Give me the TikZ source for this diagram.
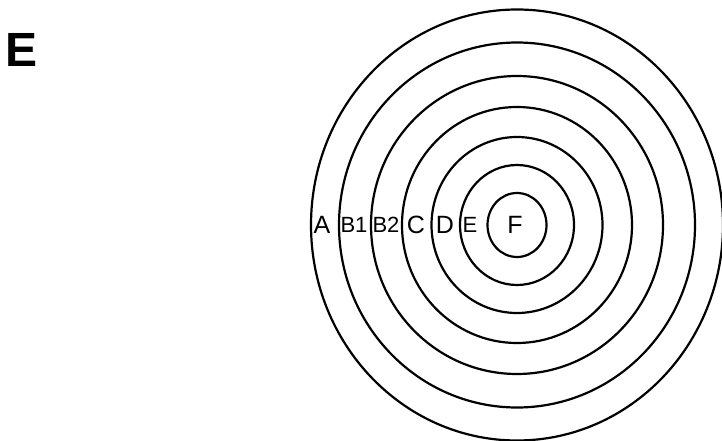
\documentclass[tikz,border=0pt]{standalone}
\usepackage{fontspec}
\setmainfont{Liberation Sans}
\usetikzlibrary{positioning}

\begin{document}
\begin{tikzpicture}[
    x=1pt, y=-1pt,
    ring/.style={line width=2.2pt},
    lbl/.style={font=\fontsize{25}{25}\selectfont, inner sep=0pt},
    slbl/.style={font=\fontsize{22}{22}\selectfont, inner sep=0pt},
    panel/.style={font=\fontsize{48}{48}\selectfont\bfseries, inner sep=0pt},
]
\useasboundingbox (0,0) rectangle (722,441);
\clip (0,0) rectangle (722,441);

% Panel letter
\node[panel] (panel) at (22,50) {E};

% Rings, outer to inner (centre at 517,225)
\coordinate (c) at (517,225);
\draw[ring] (c) ellipse [x radius=206, y radius=215.5];
\draw[ring] (c) ellipse [x radius=178, y radius=182.5];
\draw[ring] (c) ellipse [x radius=146, y radius=149];
\draw[ring] (c) ellipse [x radius=115, y radius=118];
\draw[ring] (c) ellipse [x radius=85.5, y radius=88];
\draw[ring] (c) ellipse [x radius=57, y radius=60];
\draw[ring] (c) ellipse [x radius=29.5, y radius=32];

% Zone labels, left to right
\node[lbl] (zA) at (322,225) {A};
\node[slbl] (zB1) at (354,225) {B1};
\node[slbl] (zB2) at (386,225) {B2};
\node[lbl] (zC) at (416,225) {C};
\node[lbl] (zD) at (445,225) {D};
\node[slbl] (zE) at (470,225) {E};
\node[lbl] (zF) at (515,225) {F};

\end{tikzpicture}
\end{document}
